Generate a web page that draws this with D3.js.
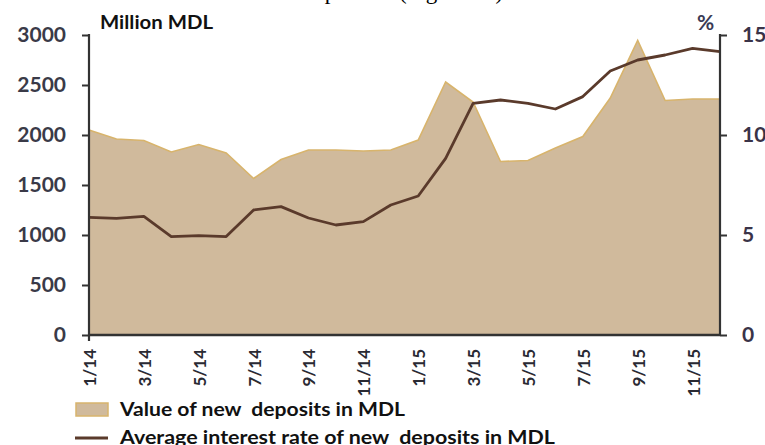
<!DOCTYPE html>
<html>
<head>
<meta charset="utf-8">
<script src="https://cdn.jsdelivr.net/npm/d3@7/dist/d3.min.js"></script>
<style>
  html, body { margin: 0; padding: 0; background: #ffffff; }
  svg { display: block; }
  text { font-family: Lato, "Open Sans", sans-serif; }
</style>
</head>
<body>
<svg id="chart" width="765" height="445"></svg>
<script>
// ---- data ----
const months = ["1/14","2/14","3/14","4/14","5/14","6/14","7/14","8/14","9/14","10/14","11/14","12/14",
                "1/15","2/15","3/15","4/15","5/15","6/15","7/15","8/15","9/15","10/15","11/15","12/15"];
const depositValues = [2050,1960,1945,1830,1905,1820,1565,1755,1850,1850,1840,1850,
                       1950,2530,2330,1735,1745,1870,1985,2370,2945,2345,2360,2360];
const interestRates = [5.88,5.83,5.93,4.92,4.97,4.92,6.25,6.42,5.85,5.50,5.67,6.50,
                       6.95,8.83,11.58,11.75,11.58,11.30,11.92,13.20,13.75,14.00,14.33,14.17];
const leftTicks = [0,500,1000,1500,2000,2500,3000];
const rightTicks = [0,5,10,15];
const xTickLabels = ["1/14","3/14","5/14","7/14","9/14","11/14","1/15","3/15","5/15","7/15","9/15","11/15"];
const leftTitle = "Million MDL";
const rightTitle = "%";
const legendLabels = ["Value of new  deposits in MDL", "Average interest rate of new  deposits in MDL"];

// ---- layout ----
const svg = d3.select("#chart");
const L = 89, R = 720, T = 35, B = 335;
const areaFill = "#d0ba9c", areaEdge = "#d8b46c", lineCol = "#5a3a2b", axisCol = "#333333";

const x = d3.scalePoint().domain(months).range([L, R]);
const yL = d3.scaleLinear().domain([0, 3000]).range([B, T]);
const yR = d3.scaleLinear().domain([0, 15]).range([B, T]);

// cropped caption text at the very top (only descenders visible)
svg.append("text").attr("x", 303).attr("y", -1)
  .style("font-family", "'Liberation Serif', 'DejaVu Serif', serif")
  .style("font-size", "23px").attr("fill", "#000")
  .text("deposits");
svg.append("text").attr("x", 399).attr("y", -1)
  .style("font-family", "'Liberation Serif', 'DejaVu Serif', serif")
  .style("font-size", "23px").attr("fill", "#000")
  .text("(Figure 12)");

// area
svg.append("path")
  .datum(depositValues)
  .attr("d", d3.area().x((d, i) => x(months[i])).y0(B).y1(d => yL(d)))
  .attr("fill", areaFill);
svg.append("path")
  .datum(depositValues)
  .attr("d", d3.line().x((d, i) => x(months[i])).y(d => yL(d)))
  .attr("fill", "none").attr("stroke", areaEdge).attr("stroke-width", 1.6);

// rate line
svg.append("path")
  .datum(interestRates)
  .attr("d", d3.line().x((d, i) => x(months[i])).y(d => yR(d)))
  .attr("fill", "none").attr("stroke", lineCol).attr("stroke-width", 2.8)
  .attr("stroke-linejoin", "round");

// left axis
const gL = svg.append("g").attr("transform", `translate(${L},0)`)
  .call(d3.axisLeft(yL).tickValues(leftTicks).tickSize(7).tickPadding(16).tickFormat(d3.format("d")));
gL.select(".domain").remove();
gL.selectAll(".tick line").attr("stroke", axisCol).attr("stroke-width", 2);
gL.selectAll(".tick text").style("font-size", "21px").style("font-weight", "bold").attr("fill", "#3a3a48");
svg.append("line").attr("x1", L).attr("x2", L).attr("y1", T - 1).attr("y2", B + 6)
  .attr("stroke", axisCol).attr("stroke-width", 2.2);

// right axis
const gR = svg.append("g").attr("transform", `translate(${R},0)`)
  .call(d3.axisRight(yR).tickValues(rightTicks).tickSize(7).tickPadding(15));
gR.select(".domain").remove();
gR.selectAll(".tick line").attr("stroke", axisCol).attr("stroke-width", 2);
gR.selectAll(".tick text").style("font-size", "21px").style("font-weight", "bold").attr("fill", "#3a3348");
svg.append("line").attr("x1", R).attr("x2", R).attr("y1", T - 1).attr("y2", B + 1)
  .attr("stroke", axisCol).attr("stroke-width", 2.2);

// bottom axis
const gB = svg.append("g").attr("transform", `translate(0,${B})`)
  .call(d3.axisBottom(x).tickValues(xTickLabels).tickSize(0).tickPadding(0));
gB.select(".domain").remove();
svg.append("line").attr("x1", L).attr("x2", R).attr("y1", B).attr("y2", B)
  .attr("stroke", axisCol).attr("stroke-width", 2.4);
gB.selectAll(".tick text")
  .attr("transform", "rotate(-90)")
  .attr("x", -14).attr("y", 0).attr("dy", "0.38em")
  .attr("text-anchor", "end")
  .style("font-size", "17px").style("font-weight", "bold").attr("fill", "#2a2a33");

// titles
svg.append("text").attr("x", 100).attr("y", 29)
  .style("font-size", "19px").style("font-weight", "bold").attr("fill", "#111")
  .attr("textLength", 113).attr("lengthAdjust", "spacingAndGlyphs")
  .text(leftTitle);
svg.append("text").attr("x", 697).attr("y", 30)
  .style("font-size", "21px").style("font-weight", "bold").attr("fill", "#3a3a55")
  .text(rightTitle);

// legend
svg.append("rect").attr("x", 76).attr("y", 403).attr("width", 32).attr("height", 13)
  .attr("fill", areaFill).attr("stroke", areaEdge).attr("stroke-width", 1.5);
svg.append("text").attr("x", 120).attr("y", 416)
  .style("font-size", "19px").style("font-weight", "bold").style("white-space", "pre").attr("fill", "#111")
  .attr("textLength", 285).attr("lengthAdjust", "spacingAndGlyphs")
  .text(legendLabels[0]);
svg.append("line").attr("x1", 75).attr("x2", 108).attr("y1", 438).attr("y2", 438)
  .attr("stroke", lineCol).attr("stroke-width", 3);
svg.append("text").attr("x", 120).attr("y", 444)
  .style("font-size", "19px").style("font-weight", "bold").style("white-space", "pre").attr("fill", "#111")
  .attr("textLength", 435).attr("lengthAdjust", "spacingAndGlyphs")
  .text(legendLabels[1]);
</script>
</body>
</html>
